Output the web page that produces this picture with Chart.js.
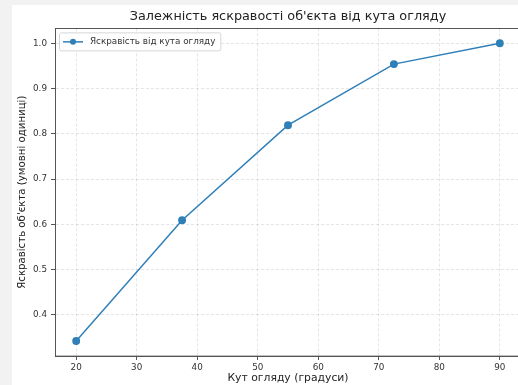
<!DOCTYPE html>
<html lang="uk">
<head>
  <meta charset="UTF-8">
  <title>Залежність яскравості об'єкта від кута огляду</title>
  <script src="https://cdn.jsdelivr.net/npm/chart.js"></script>
  <style>
    html, body {
      margin: 0;
      padding: 0;
      background: #f2f2f2;
      width: 518px;
      height: 385px;
      overflow: hidden;
    }
    .frame {
      position: absolute;
      left: 12px;
      top: 5px;
      width: 506px;
      height: 380px;
      background: #fff;
      overflow: hidden;
    }
  </style>
</head>
<body>
  <div class="frame">
    <canvas id="chart" width="530" height="380"></canvas>
  </div>

  <script>
    // дані з графіка
    const angles = [20, 37.5, 55, 72.5, 90];
    const brightness = [0.342, 0.609, 0.819, 0.954, 1.0];
    const xTicks = [20, 30, 40, 50, 60, 70, 80, 90];
    const yTicks = [0.4, 0.5, 0.6, 0.7, 0.8, 0.9, 1.0];

    const seriesLabel = 'Яскравість від кута огляду';
    const lineColor = '#2f7fb8';
    const font = 'DejaVu Sans';

    // рамка навколо області графіка (верхня лінія)
    const framePlugin = {
      id: 'frame',
      afterDraw(chart) {
        const a = chart.chartArea;
        const ctx = chart.ctx;
        ctx.save();
        ctx.strokeStyle = '#555';
        ctx.lineWidth = 1;
        ctx.strokeRect(Math.round(a.left) + 0.5, Math.round(a.top) + 0.5, a.right - a.left, a.bottom - a.top);
        ctx.restore();
      }
    };

    // легенда всередині області графіка, як у matplotlib
    const legendPlugin = {
      id: 'innerLegend',
      afterDatasetsDraw(chart) {
        const a = chart.chartArea;
        const ctx = chart.ctx;
        const ds = chart.data.datasets[0];
        ctx.save();
        ctx.font = '8.8px "' + font + '"';
        const w = ctx.measureText(ds.label).width + 36;
        const x = a.left + 4, y = a.top + 4, h = 18;
        ctx.fillStyle = 'rgba(255,255,255,0.85)';
        ctx.strokeStyle = '#d6d6d6';
        ctx.lineWidth = 1;
        ctx.beginPath();
        ctx.roundRect(x + 0.5, y + 0.5, w, h, 2);
        ctx.fill();
        ctx.stroke();
        const cy = y + h / 2 + 0.5;
        ctx.strokeStyle = ds.borderColor;
        ctx.lineWidth = 1.5;
        ctx.beginPath();
        ctx.moveTo(x + 4, cy);
        ctx.lineTo(x + 24, cy);
        ctx.stroke();
        ctx.fillStyle = ds.borderColor;
        ctx.beginPath();
        ctx.arc(x + 14, cy, 3, 0, Math.PI * 2);
        ctx.fill();
        ctx.fillStyle = '#333';
        ctx.textBaseline = 'middle';
        ctx.fillText(ds.label, x + 31, cy);
        ctx.restore();
      }
    };

    const ctx = document.getElementById('chart').getContext('2d');
    new Chart(ctx, {
      type: 'line',
      data: {
        datasets: [{
          label: seriesLabel,
          data: angles.map((a, i) => ({ x: a, y: brightness[i] })),
          borderColor: lineColor,
          backgroundColor: lineColor,
          borderWidth: 1.5,
          pointRadius: 3.2,
          pointHoverRadius: 3.2,
          tension: 0,
          fill: false
        }]
      },
      options: {
        responsive: false,
        animation: false,
        layout: { padding: { left: 0, right: 21, top: 0, bottom: 0 } },
        plugins: {
          legend: { display: false },
          tooltip: { enabled: false },
          title: {
            display: true,
            fullSize: false,
            text: 'Залежність яскравості об\'єкта від кута огляду',
            color: '#222',
            font: { family: font, size: 12.8, weight: 'normal' },
            padding: { top: 4, bottom: 4 }
          }
        },
        scales: {
          x: {
            type: 'linear',
            min: 16.5,
            max: 93.5,
            afterBuildTicks: s => { s.ticks = xTicks.map(v => ({ value: v })); },
            afterFit: s => { s.height = 29; },
            ticks: {
              color: '#333',
              font: { family: font, size: 8.8 },
              padding: 2,
              maxRotation: 0,
              callback: v => String(v)
            },
            grid: {
              color: 'rgba(0,0,0,0.1)',
              tickColor: '#555',
              tickLength: 4,
              tickBorderDash: []
            },
            border: { color: '#555', width: 1, dash: [3, 2] },
            title: {
              display: true,
              text: 'Кут огляду (градуси)',
              color: '#222',
              font: { family: font, size: 10.8 },
              padding: { top: 0, bottom: 0 }
            }
          },
          y: {
            type: 'linear',
            min: 0.309,
            max: 1.033,
            afterBuildTicks: s => { s.ticks = yTicks.map(v => ({ value: v })); },
            afterFit: s => { s.width = 43; },
            ticks: {
              color: '#333',
              font: { family: font, size: 8.8 },
              padding: 4,
              callback: v => v.toFixed(1)
            },
            grid: {
              color: 'rgba(0,0,0,0.1)',
              tickColor: '#555',
              tickLength: 4,
              tickBorderDash: []
            },
            border: { color: '#555', width: 1, dash: [3, 2] },
            title: {
              display: true,
              text: 'Яскравість об\'єкта (умовні одиниці)',
              color: '#222',
              font: { family: font, size: 10.2 },
              padding: { top: 4, bottom: 0 }
            }
          }
        }
      },
      plugins: [framePlugin, legendPlugin]
    });
  </script>
</body>
</html>
